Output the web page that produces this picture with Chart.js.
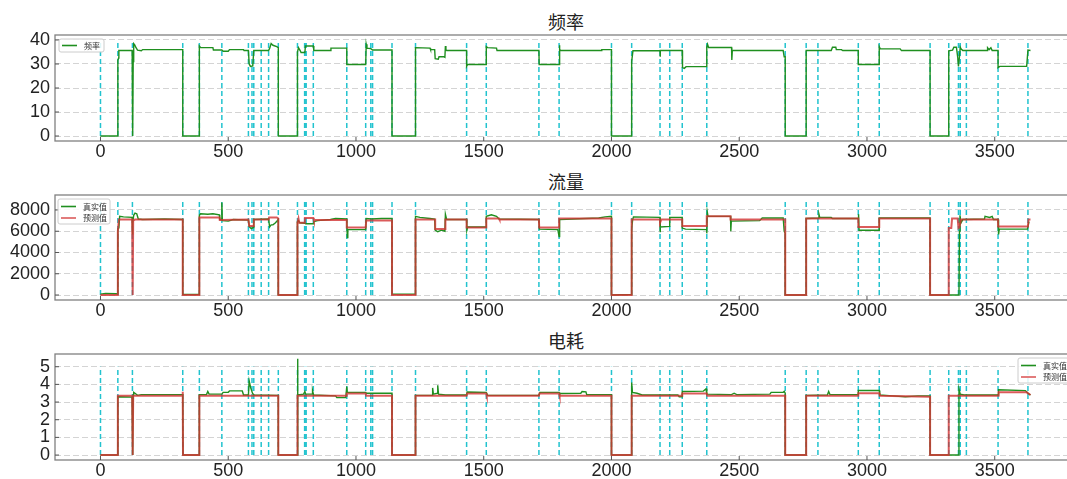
<!DOCTYPE html>
<html>
<head>
<meta charset="utf-8">
<script src="https://cdn.jsdelivr.net/npm/chart.js@4.4.0/dist/chart.umd.min.js"></script>
<style>
html, body { margin: 0; padding: 0; background: #fff; overflow: hidden; width: 1067px; height: 479px; }
.panel { position: absolute; left: 0; width: 1090px; }
.ttl { position: absolute; left: 55px; width: 1022px; text-align: center; font-family: "Noto Sans CJK SC", sans-serif; font-size: 18px; line-height: 18px; color: #222; }
</style>
</head>
<body>
<div class="ttl" style="top:12px">频率</div>
<div class="ttl" style="top:172px">流量</div>
<div class="ttl" style="top:331px">电耗</div>
<div class="panel" style="top:0px;height:170px"><canvas id="c1"></canvas></div>
<div class="panel" style="top:160px;height:170px"><canvas id="c2"></canvas></div>
<div class="panel" style="top:319px;height:160px"><canvas id="c3"></canvas></div>
<script>
// tick labels
const xTicks = [0, 500, 1000, 1500, 2000, 2500, 3000, 3500];
const freqTicks = [0, 10, 20, 30, 40];
const flowTicks = [0, 2000, 4000, 6000, 8000];
const powerTicks = [0, 1, 2, 3, 4, 5];

// positions of the cyan dashed markers (sample index)
const vlineX = [0, 68, 125, 322, 387, 475, 579, 593, 600, 629, 658, 696, 771, 799, 805, 833, 964,
  1038, 1058, 1065, 1141, 1233, 1433, 1510, 1716, 1795, 2000, 2079, 2190, 2228, 2277, 2373,
  2680, 2762, 2808, 2966, 3048, 3247, 3320, 3358, 3365, 3389, 3513, 3630];

// 频率 [index, value]
const freqTrue = [[0,0],[68,0],[68,31.5],[71,32.5],[72,35.6],[124,35.6],[125,0],[127,0],[128,31],[130,38.5],
  [134,38],[138,37],[145,35.8],[160,35.5],[165,36],[322,36],[322,0],[387,0],[387,37.5],[392,36.8],
  [440,36.8],[442,35.8],[475,35.8],[480,35.3],[500,35.3],[505,36],[560,36],[562,35.6],[579,35.6],
  [582,30],[587,29],[596,29.2],[600,35.6],[658,35.6],[662,36.5],[668,38.5],[675,37.8],[690,37.2],
  [696,36.8],[696,0],[771,0],[771,35],[775,36.8],[782,35.5],[785,34.8],[800,34.8],[802,37.5],
  [833,37.5],[835,35.6],[900,35.6],[902,36.6],[964,36.6],[964,29.8],[1038,29.8],[1040,38.2],
  [1043,36.6],[1058,36.4],[1065,35.8],[1141,35.8],[1141,0],[1233,0],[1233,36.8],[1290,36.6],
  [1292,36],[1308,36],[1310,32.2],[1322,32],[1325,33],[1345,33],[1348,32.8],[1350,37.5],[1352,36],
  [1355,35.6],[1433,35.6],[1433,29],[1437,29.8],[1510,29.8],[1510,37.2],[1515,36.8],[1550,36.6],
  [1552,35.6],[1716,35.6],[1717,29.8],[1795,29.8],[1796,37.8],[1798,36],[1802,35.6],[1960,35.6],
  [1962,36],[2000,36],[2000,0],[2079,0],[2079,31],[2084,35.5],[2190,35.6],[2190,33],[2192,35.6],
  [2277,35.6],[2278,28.5],[2285,28.2],[2292,28.9],[2373,28.9],[2373,37],[2376,38.2],[2380,36.9],
  [2470,36.9],[2471,31.7],[2473,35.6],[2672,35.6],[2676,33],[2680,33],[2680,0],[2762,0],
  [2762,35.6],[2860,35.6],[2865,37],[2878,37],[2880,36],[2900,36],[2905,35.6],[2966,35.6],
  [2966,29.8],[3048,29.8],[3048,37.2],[3052,36.3],[3130,36.3],[3135,35.6],[3247,35.6],[3247,0],
  [3320,0],[3320,35.5],[3335,35.8],[3340,37],[3350,37],[3355,33],[3358,29],[3362,33],[3365,37],
  [3368,36.3],[3375,35.6],[3470,35.6],[3472,36.8],[3478,36],[3485,36.8],[3490,35.6],[3513,35.6],
  [3513,28.5],[3520,29],[3625,29],[3630,35.8],[3640,35.6]];

// 流量 真实值 / 预测值
const flowTrue = [[0,80],[20,150],[60,120],[68,100],[68,6200],[72,6300],[75,7400],[90,7350],[124,7300],
  [125,5700],[127,6800],[130,7500],[135,7700],[142,7650],[148,7150],[165,7100],[250,7150],[322,7100],
  [322,50],[387,50],[387,7500],[392,7650],[420,7600],[440,7650],[465,7550],[467,7100],[474,7050],
  [475,8700],[477,7000],[500,6950],[520,7100],[579,7050],[583,6400],[590,6250],[598,6350],[600,7100],
  [658,7150],[662,6400],[668,6600],[675,6600],[685,6800],[696,7100],[696,0],[771,0],[771,6900],
  [775,7000],[780,6800],[800,6750],[803,6700],[833,6700],[835,6900],[850,7000],[900,7100],[920,7200],
  [964,7150],[966,5400],[968,6150],[1038,6150],[1040,7200],[1060,7150],[1100,7200],[1141,7200],
  [1141,100],[1233,80],[1233,7400],[1250,7300],[1290,7200],[1308,7150],[1310,6100],[1320,5950],
  [1335,6100],[1348,6000],[1350,7600],[1355,7100],[1433,7100],[1434,6100],[1437,6400],[1510,6400],
  [1510,7400],[1530,7550],[1550,7400],[1560,7150],[1716,7100],[1718,6200],[1790,6150],[1795,5500],
  [1797,7100],[1850,7150],[1900,7200],[1950,7250],[1975,7350],[2000,7400],[2000,0],[2079,50],
  [2079,6200],[2083,7100],[2086,7350],[2190,7300],[2190,5900],[2192,6400],[2228,6450],[2228,7300],
  [2277,7300],[2277,6300],[2290,6200],[2373,6150],[2373,5800],[2375,7800],[2378,7400],[2466,7400],
  [2467,6000],[2469,6950],[2580,7000],[2590,7250],[2672,7250],[2676,6000],[2680,5800],[2680,0],
  [2762,0],[2762,7200],[2810,7250],[2812,7600],[2815,7300],[2860,7300],[2865,7200],[2966,7200],
  [2967,7600],[2969,6100],[3048,6100],[3048,7250],[3247,7250],[3247,0],[3360,0],[3362,6000],
  [3364,7500],[3368,6800],[3375,7100],[3460,7150],[3462,7400],[3480,7300],[3490,7400],[3495,7100],
  [3513,7100],[3515,5700],[3518,6200],[3628,6200],[3634,6900]];
const flowPred = [[0,0],[68,0],[68,6000],[72,7100],[124,7100],[125,0],[127,0],[128,7000],[135,7100],
  [322,7100],[322,0],[387,0],[387,7300],[465,7300],[467,7050],[579,7100],[582,6500],[598,6500],
  [600,7100],[658,7100],[660,7300],[690,7300],[696,7200],[696,0],[771,0],[771,6800],[775,7200],
  [778,6800],[800,6800],[800,7250],[833,7250],[835,7050],[964,7050],[964,6350],[1038,6350],
  [1040,7000],[1141,7000],[1141,0],[1233,0],[1233,7100],[1310,7100],[1310,6200],[1350,6200],
  [1350,7100],[1433,7100],[1433,6350],[1510,6350],[1510,7200],[1560,7200],[1562,7100],[1716,7100],
  [1717,6350],[1795,6350],[1795,7200],[2000,7200],[2000,0],[2079,0],[2079,7100],[2190,7100],
  [2190,6800],[2195,7100],[2277,7100],[2277,6500],[2373,6500],[2373,7400],[2466,7400],[2466,7100],
  [2680,7100],[2680,0],[2762,0],[2762,7200],[2966,7200],[2966,6400],[3048,6400],[3048,7200],
  [3247,7200],[3247,0],[3320,0],[3320,6300],[3330,6300],[3333,7200],[3355,7200],[3358,6300],
  [3362,6400],[3368,7100],[3513,7100],[3513,6450],[3630,6450],[3632,7100],[3640,7100]];

// 电耗 真实值 / 预测值
const powerTrue = [[0,0],[68,0],[68,3.3],[124,3.28],[125,0],[127,0],[128,3.4],[130,3.55],[135,3.5],
  [145,3.38],[160,3.42],[322,3.42],[323,0],[387,0],[387,3.42],[415,3.42],[420,3.6],[425,3.45],
  [475,3.45],[480,3.55],[500,3.55],[505,3.63],[555,3.63],[560,3.4],[579,3.4],[582,4.2],[588,3.8],
  [595,3.5],[600,3.4],[696,3.38],[696,0],[771,0],[771,5.45],[773,3.4],[795,3.45],[800,3.6],
  [803,3.45],[828,3.45],[830,3.65],[834,3.4],[920,3.35],[925,3.25],[960,3.25],[964,3.88],
  [966,3.55],[1038,3.55],[1040,3.5],[1141,3.5],[1141,0],[1233,0],[1233,3.38],[1298,3.38],
  [1300,3.8],[1303,3.45],[1318,3.5],[1320,3.95],[1323,3.45],[1350,3.4],[1433,3.4],[1435,3.57],
  [1510,3.55],[1515,3.38],[1716,3.38],[1720,3.55],[1795,3.55],[1797,3.48],[1880,3.5],[1885,3.6],
  [1900,3.58],[1903,3.42],[2000,3.42],[2000,0],[2079,0],[2079,4.1],[2082,3.55],[2100,3.5],
  [2120,3.4],[2260,3.4],[2265,3.3],[2277,3.3],[2277,3.6],[2360,3.62],[2370,3.75],[2373,3.45],
  [2470,3.42],[2480,3.5],[2490,3.42],[2620,3.45],[2625,3.55],[2672,3.55],[2676,3.6],[2680,3.5],
  [2680,0],[2762,0],[2762,3.38],[2845,3.4],[2850,3.6],[2855,3.42],[2966,3.42],[2966,3.65],
  [3048,3.65],[3050,3.4],[3100,3.35],[3150,3.3],[3200,3.35],[3247,3.35],[3247,0],[3358,0],
  [3360,3.75],[3365,3.45],[3380,3.4],[3513,3.4],[3515,3.7],[3620,3.65],[3630,3.5],[3640,3.4]];
const powerPred = [[0,0],[68,0],[68,3.35],[124,3.35],[125,0],[127,0],[128,3.35],[321,3.35],[322,3.58],
  [323,0],[387,0],[387,3.35],[696,3.35],[696,0],[771,0],[771,3.35],[964,3.35],[964,3.48],
  [1038,3.48],[1040,3.35],[1141,3.35],[1141,0],[1233,0],[1233,3.35],[1433,3.35],[1435,3.48],
  [1510,3.48],[1512,3.35],[1716,3.35],[1718,3.48],[1795,3.48],[1797,3.35],[2000,3.35],[2000,0],
  [2079,0],[2079,3.35],[2277,3.35],[2277,3.48],[2373,3.48],[2375,3.35],[2680,3.35],[2680,0],
  [2762,0],[2762,3.35],[2966,3.35],[2966,3.5],[3048,3.5],[3050,3.35],[3247,3.3],[3247,0],
  [3320,0],[3320,3.35],[3513,3.35],[3515,3.55],[3625,3.55],[3640,3.4]];

const GREEN = '#1f8f1f';
const RED = 'rgba(210,50,50,0.8)';
const CYAN = '#22c3cf';
const TICK_FONT = { family: '"Liberation Sans", Arial, sans-serif', size: 18 };

const toXY = arr => arr.map(p => ({ x: p[0], y: p[1] }));
const vlines = top => vlineX.flatMap(v => [{ x: v, y: 0 }, { x: v, y: top }, { x: v, y: null }]);

// frame box + inward tick marks
const framePlugin = {
  id: 'frame',
  afterDraw(chart) {
    const { ctx, chartArea: a, scales } = chart;
    ctx.save();
    ctx.strokeStyle = '#808080';
    ctx.lineWidth = 1.3;
    ctx.strokeRect(a.left, a.top, a.right - a.left, a.bottom - a.top);
    ctx.lineWidth = 1;
    ctx.strokeStyle = '#555';
    ctx.beginPath();
    scales.x.ticks.forEach(t => {
      const px = scales.x.getPixelForValue(t.value);
      ctx.moveTo(px, a.bottom); ctx.lineTo(px, a.bottom - 4);
    });
    scales.y.ticks.forEach(t => {
      const py = scales.y.getPixelForValue(t.value);
      ctx.moveTo(a.left, py); ctx.lineTo(a.left + 4, py);
    });
    ctx.stroke();
    ctx.restore();
  }
};

// small matplotlib style legend box
const boxLegendPlugin = {
  id: 'boxLegend',
  afterDraw(chart, args, opts) {
    const { ctx } = chart;
    const items = chart.data.datasets.filter(d => d.label);
    ctx.save();
    ctx.fillStyle = 'rgba(255,255,255,0.85)';
    ctx.strokeStyle = '#cccccc';
    ctx.lineWidth = 1;
    ctx.beginPath();
    ctx.roundRect(opts.x, opts.y, opts.w, opts.h, 2);
    ctx.fill();
    ctx.stroke();
    ctx.font = '8px "Noto Sans CJK SC"';
    ctx.textBaseline = 'middle';
    items.forEach((d, i) => {
      const yy = opts.y + opts.first + i * opts.row;
      ctx.strokeStyle = d.borderColor;
      ctx.lineWidth = 1.6;
      ctx.beginPath();
      ctx.moveTo(opts.x + 3, yy); ctx.lineTo(opts.x + 18, yy);
      ctx.stroke();
      ctx.fillStyle = '#333';
      ctx.fillText(d.label, opts.x + 25, yy);
    });
    ctx.restore();
  }
};

function makeChart(id, cfg) {
  return new Chart(document.getElementById(id), {
    type: 'line',
    data: {
      datasets: [
        { data: vlines(cfg.vtop), borderColor: CYAN, borderWidth: 1.5, borderDash: [5, 3],
          pointRadius: 0, spanGaps: false, order: 3 },
        ...cfg.series
      ]
    },
    options: {
      responsive: true,
      maintainAspectRatio: false,
      animation: false,
      events: [],
      layout: { padding: { left: 0, right: 13, top: 35, bottom: 0 } },
      plugins: { legend: { display: false }, tooltip: { enabled: false }, boxLegend: cfg.legend },
      elements: { line: { tension: 0 }, point: { radius: 0 } },
      scales: {
        x: {
          type: 'linear', min: -178, max: 3822,
          afterBuildTicks: s => { s.ticks = xTicks.map(v => ({ value: v })); },
          afterFit: s => { s.height = cfg.xh; },
          ticks: { font: TICK_FONT, color: '#222', padding: 0, maxRotation: 0, autoSkip: false,
            callback: v => String(v) },
          grid: { display: false, drawTicks: false },
          border: { display: false }
        },
        y: {
          min: cfg.ymin, max: cfg.ymax,
          afterBuildTicks: s => { s.ticks = cfg.yticks.map(v => ({ value: v })); },
          afterFit: s => { s.width = 55; },
          ticks: { font: TICK_FONT, color: '#222', padding: 5, autoSkip: false,
            callback: v => String(v) },
          grid: { color: '#d4d4d4', lineWidth: 1, drawTicks: false },
          border: { display: false, dash: [6, 3] }
        }
      }
    },
    plugins: [framePlugin, boxLegendPlugin]
  });
}

makeChart('c1', {
  vtop: 40, ymin: -2.08, ymax: 42.08, yticks: freqTicks, xh: 29,
  series: [
    { label: '频率', data: toXY(freqTrue), borderColor: GREEN, borderWidth: 1.4, order: 2 }
  ],
  legend: { x: 59, y: 39, w: 45, h: 13, first: 6.5, row: 12 }
});

makeChart('c2', {
  vtop: 8900, ymin: -470, ymax: 9410, yticks: flowTicks, xh: 30,
  series: [
    { label: '真实值', data: toXY(flowTrue), borderColor: GREEN, borderWidth: 1.4, order: 2 },
    { label: '预测值', data: toXY(flowPred), borderColor: RED, borderWidth: 2, order: 1 }
  ],
  legend: { x: 58, y: 39, w: 52, h: 25, first: 7.5, row: 11.5 }
});

makeChart('c3', {
  vtop: 5, ymin: -0.28, ymax: 5.72, yticks: powerTicks, xh: 19,
  series: [
    { label: '真实值', data: toXY(powerTrue), borderColor: GREEN, borderWidth: 1.4, order: 2 },
    { label: '预测值', data: toXY(powerPred), borderColor: RED, borderWidth: 2, order: 1 }
  ],
  legend: { x: 1018, y: 39, w: 60, h: 25, first: 7.5, row: 11.5 }
});
</script>
</body>
</html>
